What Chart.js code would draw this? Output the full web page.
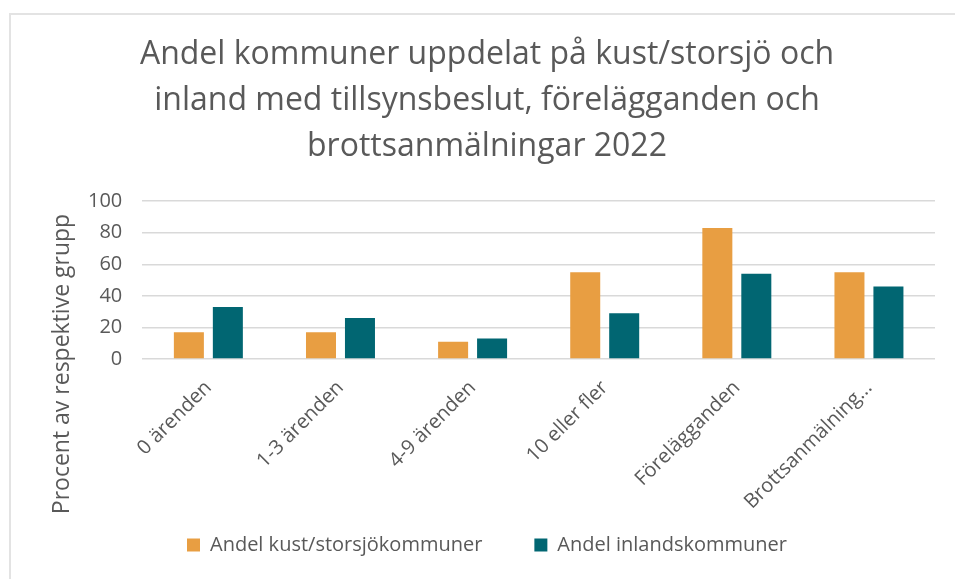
<!DOCTYPE html>
<html>
<head>
<meta charset="utf-8">
<script src="https://cdn.jsdelivr.net/npm/chart.js@4"></script>
<style>
  html, body { margin: 0; padding: 0; background: #fff; }
  #frame { position: absolute; left: 9px; top: 13px; width: 1000px; height: 700px;
           border-left: 2px solid #e3e3e3; border-top: 2px solid #e3e3e3; }
  #wrap { position: absolute; left: 0; top: 0; width: 955px; height: 579px; }
</style>
</head>
<body>
<div id="frame"></div>
<div id="wrap"><canvas id="barChart"></canvas></div>
<script>
// categories and values (percent)
var categories = ["0 ärenden", "1-3 ärenden", "4-9 ärenden", "10 eller fler", "Förelägganden", "Brottsanmälning..."];
var kust = [17, 17, 11, 55, 83, 55];
var inland = [33, 26, 13, 29, 54, 46];
var yTicks = [0, 20, 40, 60, 80, 100];
var yTitle = "Procent av respektive grupp";

var grey = '#595959';
var font = "'Open Sans', sans-serif";

// y-axis title sits lower than the plot centre, as in the original
var yTitlePlugin = {
  id: 'yTitle',
  afterDraw: function (chart) {
    var c = chart.ctx;
    c.save();
    c.translate(62, 364);
    c.rotate(-Math.PI / 2);
    c.fillStyle = grey;
    c.font = "23px " + font;
    c.textAlign = 'center';
    c.textBaseline = 'middle';
    c.fillText(yTitle, 0, 0);
    c.restore();
  }
};

var ctx = document.getElementById("barChart").getContext('2d');
var myBarChart = new Chart(ctx, {
  type: 'bar',
  data: {
    labels: categories,
    datasets: [{
        label: "Andel kust/storsjökommuner",
        data: kust,
        backgroundColor: '#E89E42',
        categoryPercentage: 0.59,
        barPercentage: 0.77
      },
      {
        label: "Andel inlandskommuner",
        data: inland,
        backgroundColor: '#016672',
        categoryPercentage: 0.59,
        barPercentage: 0.77
      }
    ]
  },
  plugins: [yTitlePlugin],
  options: {
    responsive: true,
    maintainAspectRatio: false,
    animation: false,
    layout: { padding: { left: 39, right: 20, top: 32, bottom: 14 } },
    plugins: {
      title: {
        display: true,
        text: ["Andel kommuner uppdelat på kust/storsjö och",
               "inland med tillsynsbeslut, förelägganden och",
               "brottsanmälningar 2022"],
        color: grey,
        font: { family: font, size: 32, weight: '400', lineHeight: 1.44 },
        padding: { top: 0, bottom: 31 }
      },
      legend: {
        position: 'bottom',
        labels: {
          color: grey,
          boxWidth: 13,
          boxHeight: 13,
          padding: 12,
          font: { family: font, size: 20 },
          generateLabels: function (chart) {
            var items = Chart.defaults.plugins.legend.labels.generateLabels(chart);
            items[0].text += '\u2003\u2003';
            return items;
          }
        }
      },
      tooltip: { enabled: false }
    },
    scales: {
      x: {
        grid: { display: false },
        border: { display: false },
        ticks: {
          color: grey,
          minRotation: 45,
          maxRotation: 45,
          padding: 9,
          font: { family: font, size: 20 }
        }
      },
      y: {
        min: 0,
        max: 100,
        afterBuildTicks: function (axis) {
          axis.ticks = yTicks.map(function (v) { return { value: v }; });
        },
        afterFit: function (axis) { axis.width += 29; },
        grid: { color: '#d9d9d9', lineWidth: 1.5, drawTicks: false },
        border: { display: false },
        ticks: {
          color: grey,
          padding: 20,
          autoSkip: false,
          font: { family: font, size: 20 }
        }
      }
    }
  }
});
</script>
</body>
</html>
